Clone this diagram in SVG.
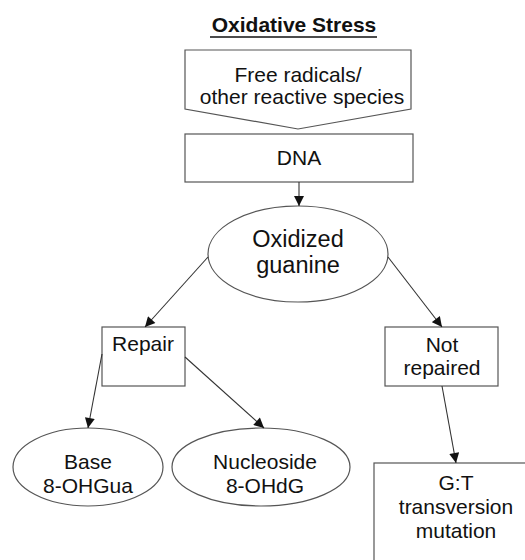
<svg xmlns="http://www.w3.org/2000/svg" width="525" height="560" viewBox="0 0 525 560">
<style>
.s{fill:#fff;stroke:#555;stroke-width:1.2}
.t{font-family:"Liberation Sans",Arial,sans-serif;font-size:21px;fill:#111;text-anchor:middle}
.c{stroke:#333;stroke-width:1.1;fill:none;marker-end:url(#a)}
</style>
<defs>
<marker id="a" viewBox="0 0 10 10" refX="10" refY="5" markerWidth="11" markerHeight="10" markerUnits="userSpaceOnUse" orient="auto">
<path d="M0,0 L10,5 L0,10 z" fill="#111"/>
</marker>
</defs>
<rect width="525" height="560" fill="#fff"/>
<g id="title">
<text x="294" y="32" style="font-family:'Liberation Sans',Arial,sans-serif;font-size:21px;font-weight:bold;fill:#111;text-anchor:middle">Oxidative Stress</text>
<line x1="210" y1="37" x2="377" y2="37" stroke="#111" stroke-width="1.5"/>
</g>
<g id="free-radicals">
<polygon class="s" points="185,50 411,50 411,109 298,129 185,109"/>
<text class="t" x="298" y="82">Free radicals/</text>
<text class="t" x="302" y="104">other reactive species</text>
</g>
<g id="dna">
<rect class="s" x="185" y="134" width="228" height="48"/>
<text class="t" x="299" y="165">DNA</text>
</g>
<g id="oxidized-guanine">
<ellipse class="s" cx="298" cy="254" rx="90" ry="48"/>
<text class="t" x="298" y="247" style="font-size:23.5px">Oxidized</text>
<text class="t" x="298" y="273" style="font-size:23.5px">guanine</text>
</g>
<g id="repair">
<rect class="s" x="102" y="327" width="83" height="59"/>
<text class="t" x="143" y="351">Repair</text>
</g>
<g id="not-repaired">
<rect class="s" x="385" y="327" width="113" height="59"/>
<text class="t" x="442" y="352">Not</text>
<text class="t" x="442" y="375">repaired</text>
</g>
<g id="base">
<ellipse class="s" cx="88" cy="467" rx="75" ry="39"/>
<text class="t" x="88" y="469">Base</text>
<text class="t" x="88" y="493">8-OHGua</text>
</g>
<g id="nucleoside">
<ellipse class="s" cx="261" cy="467" rx="89" ry="39"/>
<text class="t" x="265" y="469">Nucleoside</text>
<text class="t" x="265" y="493">8-OHdG</text>
</g>
<g id="gt-mutation">
<rect class="s" x="374" y="463" width="160" height="110"/>
<text class="t" x="456" y="490">G:T</text>
<text class="t" x="456" y="514">transversion</text>
<text class="t" x="456" y="538">mutation</text>
</g>
<g id="connectors">
<line class="c" x1="299" y1="182" x2="299" y2="206"/>
<line class="c" x1="208" y1="257" x2="145" y2="327"/>
<line class="c" x1="388" y1="257" x2="442" y2="327"/>
<line class="c" x1="102" y1="354" x2="88" y2="428"/>
<line class="c" x1="185" y1="357" x2="264" y2="428"/>
<line class="c" x1="442" y1="386" x2="456" y2="463"/>
</g>
</svg>
